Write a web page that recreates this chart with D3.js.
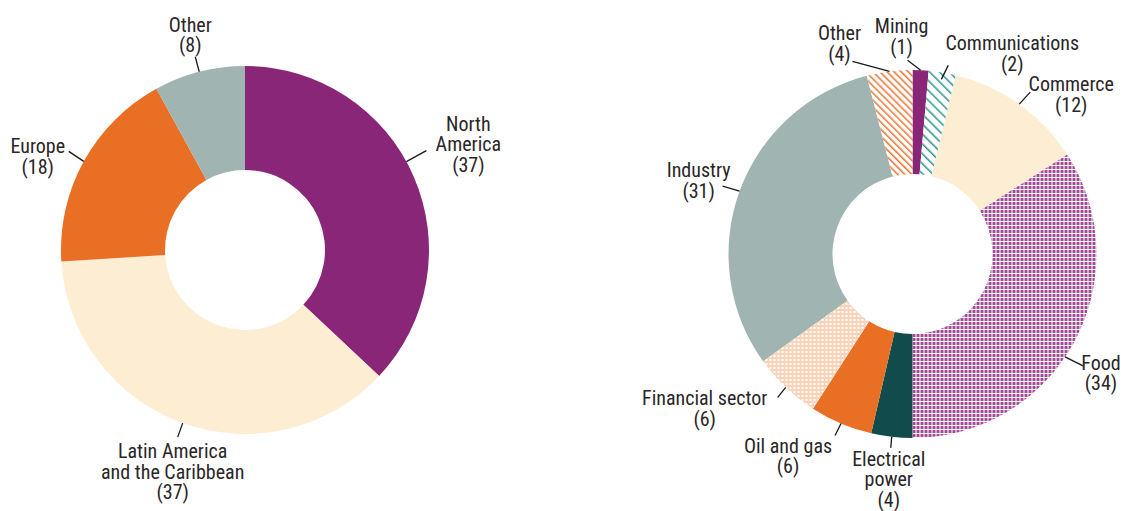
<!DOCTYPE html>
<html>
<head>
<meta charset="utf-8">
<script src="https://cdn.jsdelivr.net/npm/d3@7"></script>
<style>
  body { margin: 0; background: #fff; }
  svg text { font-family: "Liberation Sans Narrow", "Roboto Condensed", "Arial Narrow", sans-serif; font-size: 20px; fill: #2a2627; }
</style>
</head>
<body>
<svg id="chart" width="1123" height="511"></svg>
<script>
// Left donut: origin of investment, % share
const regionNames = ['North\nAmerica', 'Latin America\nand the Caribbean', 'Europe', 'Other'];
const regionShares = [37, 37, 18, 8];
const regionFills = ['#892678', '#fdedd2', '#e96f25', '#a0b4b2'];

// Right donut: sector, % share (arc sizes, labels as printed)
const sectorNames = ['Mining', 'Communications', 'Commerce', 'Food', 'Electrical\npower', 'Oil and gas', 'Financial sector', 'Industry', 'Other'];
const sectorShares = [1.4, 2.4, 12.1, 34.1, 3.6, 5.5, 6.0, 30.9, 4.0];
const sectorLabels = [1, 2, 12, 34, 4, 6, 6, 31, 4];
const sectorFills = ['#892678', 'url(#stripe-teal)', '#fdedd2', 'url(#grid-purple)', '#124b4c', '#e96f25', 'url(#dots-orange)', '#a0b4b2', 'url(#stripe-orange)'];

const svg = d3.select('#chart');
const defs = svg.append('defs');

// hatch patterns
function stripes(id, color, size, width) {
  const p = defs.append('pattern')
    .attr('id', id)
    .attr('patternUnits', 'userSpaceOnUse')
    .attr('width', size).attr('height', size)
    .attr('patternTransform', 'rotate(-45)');
  p.append('rect').attr('width', size).attr('height', size).attr('fill', '#fff');
  p.append('line')
    .attr('x1', 0.8).attr('x2', 0.8).attr('y1', 0).attr('y2', size)
    .attr('stroke', color).attr('stroke-width', width);
}
stripes('stripe-orange', '#ec7a3a', 5, 1.6);
stripes('stripe-teal', '#2a9490', 7, 1.5);

const grid = defs.append('pattern').attr('id', 'grid-purple')
  .attr('patternUnits', 'userSpaceOnUse').attr('width', 4).attr('height', 4);
grid.append('rect').attr('width', 4).attr('height', 4).attr('fill', '#fff');
grid.append('rect').attr('width', 3).attr('height', 3).attr('fill', '#a54a99');

const dots = defs.append('pattern').attr('id', 'dots-orange')
  .attr('patternUnits', 'userSpaceOnUse').attr('width', 4).attr('height', 4);
dots.append('rect').attr('width', 4).attr('height', 4).attr('fill', '#f9d3b8');
dots.append('rect').attr('x', 1).attr('y', 1).attr('width', 2).attr('height', 2).attr('fill', '#fff');

const outerR = 184;
const innerR = 80;
const lineH = 20.5;

// label placement: at = position along the slice, d = leader vector, t = text offset from leader end
const regionLayout = [
  { at: 0.46, d: [20, -11], t: [42, -20] },
  { at: 0.5, d: [-5, 14], t: [-5, 21] },
  { at: 0.5, d: [-15, -10], t: [-31, 2] },
  { at: 0.5, d: [-4, -15], t: [-5, -25] },
];
const sectorLayout = [
  { at: 0.5, d: [-13, -10], t: [-6, -27] },
  { at: 0.5, r0: -7, d: [7, -14], t: [64, -15] },
  { at: 0.5, d: [11, -12], t: [41, -1] },
  { at: 0.544, d: [18, 9], t: [18, 4] },
  { at: 0.5, d: [-1, 11], t: [-2, 18] },
  { at: 0.5, d: [-6, 12], t: [-47, 17] },
  { at: 0.5, d: [-8, 10], t: [-73, 8] },
  { at: 0.5, d: [-17, -5], t: [-24, -9] },
  { at: 0.5, d: [-37, -10], t: [-13, -21] },
];

function donut(cx, cy, names, shares, labels, fills, layout) {
  const g = svg.append('g').attr('transform', `translate(${cx},${cy})`);
  const pie = d3.pie().sort(null).value((d) => d.share);
  const arc = d3.arc().innerRadius(innerR).outerRadius(outerR);
  const rows = names.map((n, i) => ({ name: n, share: shares[i], label: labels[i], fill: fills[i], lay: layout[i] }));
  const arcs = pie(rows);

  g.selectAll('path.slice')
    .data(arcs)
    .join('path')
    .attr('class', 'slice')
    .attr('d', arc)
    .attr('fill', (d) => d.data.fill);

  arcs.forEach((a) => {
    const lay = a.data.lay;
    const ang = a.startAngle + (a.endAngle - a.startAngle) * lay.at;
    const r = outerR + (lay.r0 || 0);
    const x1 = r * Math.sin(ang);
    const y1 = -r * Math.cos(ang);
    const x2 = x1 + lay.d[0];
    const y2 = y1 + lay.d[1];

    g.append('line')
      .attr('x1', x1).attr('y1', y1)
      .attr('x2', x2).attr('y2', y2)
      .attr('stroke', '#1a1a1a')
      .attr('stroke-width', 1.3);

    const lines = [...a.data.name.split('\n'), `(${a.data.label})`];
    const txt = g.append('text')
      .attr('text-anchor', 'middle')
      .attr('x', x2 + lay.t[0])
      .attr('y', y2 + lay.t[1]);
    lines.forEach((l, i) => {
      txt.append('tspan')
        .attr('x', x2 + lay.t[0])
        .attr('y', y2 + lay.t[1] + i * lineH)
        .text(l);
    });
  });
}

donut(245, 250, regionNames, regionShares, regionShares, regionFills, regionLayout);
donut(912.5, 254, sectorNames, sectorShares, sectorLabels, sectorFills, sectorLayout);
</script>
</body>
</html>
